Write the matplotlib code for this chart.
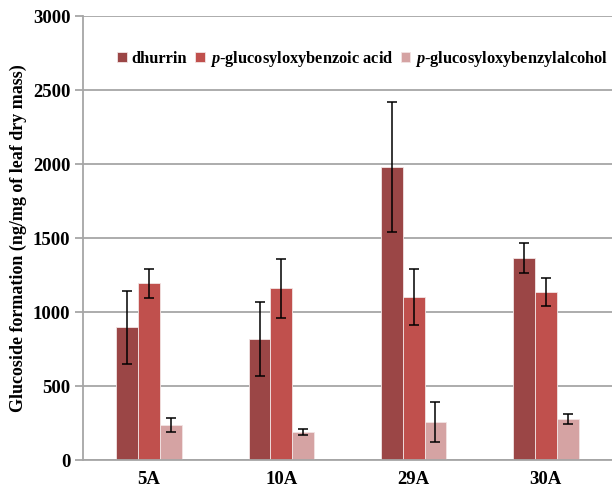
import numpy as np
import matplotlib.pyplot as plt

plt.rcParams['font.family'] = 'Liberation Serif'
plt.rcParams['font.weight'] = 'bold'
plt.rcParams['mathtext.fontset'] = 'custom'
plt.rcParams['mathtext.it'] = 'Liberation Serif:bold:italic'
plt.rcParams['mathtext.rm'] = 'Liberation Serif:bold'

categories = ['5A', '10A', '29A', '30A']
series = ['dhurrin', r'$\mathit{p}$-glucosyloxybenzoic acid', r'$\mathit{p}$-glucosyloxybenzylalcohol']
dhurrin = [897, 818, 1980, 1365]
dhurrin_err = [245, 253, 438, 99]
benzoic = [1194, 1160, 1101, 1137]
benzoic_err = [98, 198, 190, 95]
benzyl = [234, 189, 259, 277]
benzyl_err = [47, 23, 134, 35]

colors = ['#9B4646', '#C0504D', '#D5A3A3']

fig = plt.figure(figsize=(6.12, 4.9), dpi=100)
ax = fig.add_axes([0.1356, 0.0612, 0.8644, 0.906])

x = np.arange(len(categories))
w = 0.165
for i, (vals, errs) in enumerate([(dhurrin, dhurrin_err), (benzoic, benzoic_err), (benzyl, benzyl_err)]):
    ax.bar(x + (i - 1) * w, vals, w, color=colors[i], edgecolor='#F2E4E4', linewidth=0.6,
           label=series[i], zorder=2)
    ax.errorbar(x + (i - 1) * w, vals, yerr=errs, fmt='none', ecolor='black',
                elinewidth=1.1, capsize=3.5, capthick=1.1, zorder=3)

ax.set_xlim(-0.5, 3.5)
ax.set_ylim(0, 3000)
ax.set_yticks(np.arange(0, 3001, 500))
ax.set_xticks(x)
ax.set_xticklabels(categories)
ax.yaxis.grid(True, color='#A6A6A6', linewidth=1.3, zorder=0)
ax.set_axisbelow(True)
for s in ['top', 'right']:
    ax.spines[s].set_visible(False)
ax.spines['left'].set_color('#A6A6A6')
ax.spines['bottom'].set_color('#A6A6A6')
ax.spines['left'].set_linewidth(1.3)
ax.spines['bottom'].set_linewidth(1.3)
ax.tick_params(axis='y', length=6, color='#A6A6A6', width=1.3, labelsize=13.5, pad=3)
ax.tick_params(axis='x', length=0, labelsize=13.5, pad=8)
ax.set_ylabel('Glucoside formation (ng/mg of leaf dry mass)', fontsize=13, fontweight='bold', labelpad=4)

ax.legend(loc='upper left', bbox_to_anchor=(0.049, 0.945), ncol=3, frameon=False, fontsize=11.8,
          borderpad=0, handlelength=0.6, handleheight=0.6, handletextpad=0.3, columnspacing=0.45)

fig.savefig('out.png', dpi=100)
